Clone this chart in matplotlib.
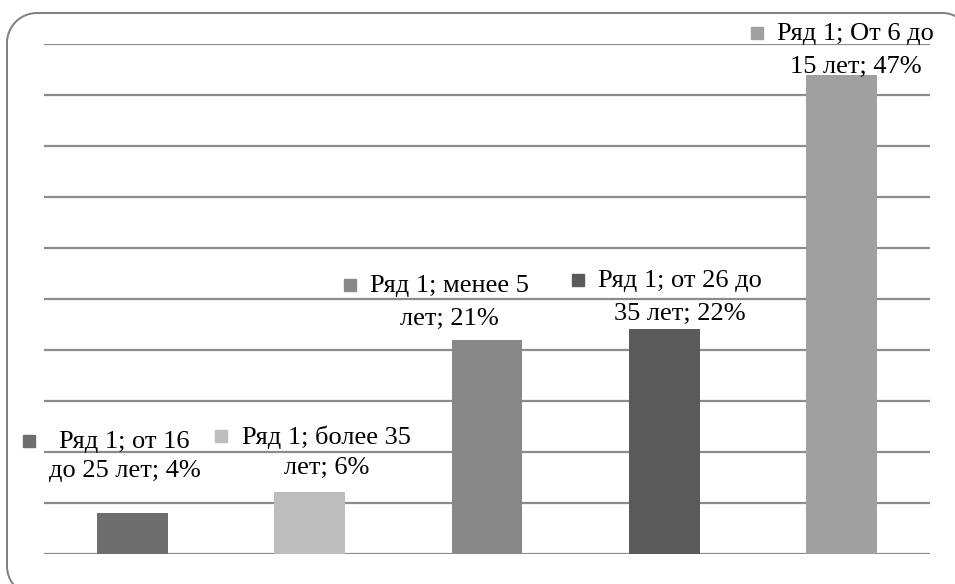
import numpy as np
import matplotlib.pyplot as plt

categories = ["от 16 до 25 лет", "более 35 лет", "менее 5 лет", "от 26 до 35 лет", "От 6 до 15 лет"]
values = [4, 6, 21, 22, 47]
label_line1 = ["Ряд 1; от 16", "Ряд 1; более 35", "Ряд 1; менее 5", "Ряд 1; от 26 до", "Ряд 1; От 6 до"]
label_line2 = ["до 25 лет; 4%", "лет; 6%", "лет; 21%", "35 лет; 22%", "15 лет; 47%"]
colors = ["#6e6e6e", "#bdbdbd", "#888888", "#5a5a5a", "#a0a0a0"]

# label offsets from bar top (pixels): dx of text centre, dy line1, dy line2, square gap
label_dx = [-8, 17, -38, 16, 14]
label_dy1 = [71, 55, 54, 48, 41]
label_dy2 = [42, 24, 21, 15, 8]
square_gap = [30, 21, 20, 20, 20]

plt.rcParams["font.family"] = ["Liberation Serif", "DejaVu Serif"]

W, H = 955, 584
fig = plt.figure(figsize=(W / 100, H / 100), dpi=100)

# rounded frame around the chart, drawn in pixel units (y from top)
bg = fig.add_axes([0, 0, 1, 1])
bg.axis("off")
bg.set_xlim(0, W)
bg.set_ylim(H, 0)
left, right, top, bottom, rad = 7, 972, 13, 596, 30


def arc(cx, cy, a0, a1):
    t = np.radians(np.linspace(a0, a1, 30))
    return cx + rad * np.cos(t), cy - rad * np.sin(t)


pts = [arc(left + rad, bottom - rad, 270, 180), arc(left + rad, top + rad, 180, 90),
       arc(right - rad, top + rad, 90, 0), arc(right - rad, bottom - rad, 0, -90)]
fx = np.concatenate([p[0] for p in pts] + [pts[0][0][:1]])
fy = np.concatenate([p[1] for p in pts] + [pts[0][1][:1]])
bg.plot(fx, fy, color="#7f7f7f", lw=1.4)

ax = fig.add_axes([44 / W, (H - 553.5) / H, (930 - 44) / W, (553.5 - 44) / H])
ax.patch.set_alpha(0)

x = np.arange(len(values))
ax.bar(x, values, width=0.4, color=colors, zorder=3)
ax.set_xlim(-0.5, len(values) - 0.5)
ax.set_ylim(0, 50)
for g in range(0, 51, 5):
    ax.axhline(g, color="#8c8c8c", lw=1.6, zorder=1)
for s in ax.spines.values():
    s.set_visible(False)
ax.set_xticks([])
ax.set_yticks([])

fig.canvas.draw()
r = fig.canvas.get_renderer()
for i, v in enumerate(values):
    t1 = ax.annotate(label_line1[i], (i, v), xytext=(label_dx[i] * 0.72, label_dy1[i] * 0.72),
                     textcoords="offset points", ha="center", va="center", fontsize=19, zorder=5)
    ax.annotate(label_line2[i], (i, v), xytext=(label_dx[i] * 0.72, label_dy2[i] * 0.72),
                textcoords="offset points", ha="center", va="center", fontsize=19, zorder=5)
    bb = t1.get_window_extent(r)
    sx = bb.x0 - square_gap[i]
    sy = (bb.y0 + bb.y1) / 2 + 1
    fig.add_artist(plt.Line2D([sx / W], [sy / H], marker="s", markersize=9,
                              color=colors[i], transform=fig.transFigure))

fig.savefig("out.png", dpi=100)
